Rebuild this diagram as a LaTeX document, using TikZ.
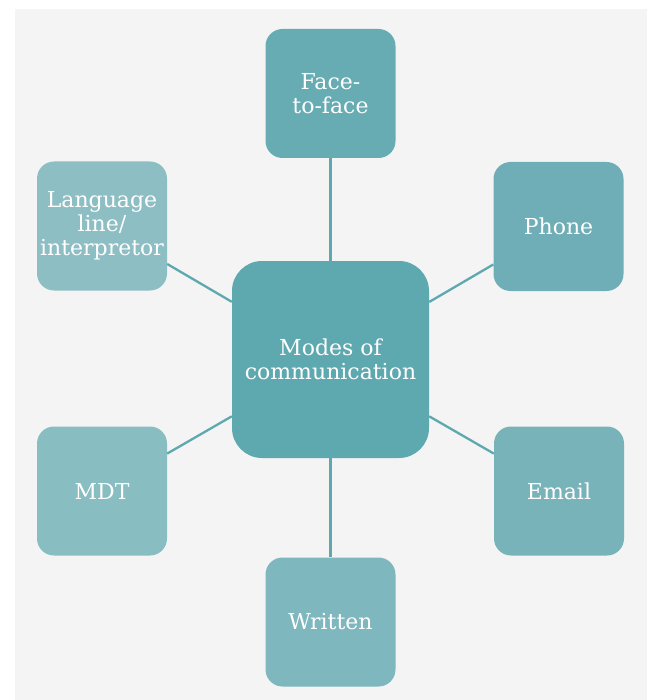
\documentclass[tikz,border=0pt]{standalone}
\usepackage{fontspec}
\setmainfont{DejaVu Serif}
\definecolor{bggray}{HTML}{F4F4F4}
\definecolor{ccenter}{HTML}{5EA8AF}
\definecolor{cface}{HTML}{67ACB3}
\definecolor{cphone}{HTML}{6FAEB6}
\definecolor{clang}{HTML}{8DBEC4}
\definecolor{cmdt}{HTML}{88BDC1}
\definecolor{cemail}{HTML}{77B3B9}
\definecolor{cwritten}{HTML}{7EB7BD}
\definecolor{cline}{HTML}{5EA8AF}
\tikzset{
  modebox/.style={rounded corners=17pt, minimum width=130pt, minimum height=129pt,
    inner sep=0pt, text=white, align=center, font=\fontsize{22}{24}\selectfont},
  centerbox/.style={rounded corners=30pt, minimum width=197pt, minimum height=197pt,
    inner sep=0pt, text=white, align=center, font=\fontsize{22}{24}\selectfont, fill=ccenter},
  link/.style={draw=cline, line width=2.3pt}
}
\begin{document}
\begin{tikzpicture}[x=1pt,y=-1pt]
\useasboundingbox (0,0) rectangle (652,700);
\fill[white] (0,0) rectangle (652,700);
\fill[bggray] (15,9) rectangle (647,700);
\node[centerbox] (c) at (330.5,359.5) {Modes of\\communication};
\node[modebox, fill=cface] (face) at (330.5,93.5) {Face-\\to-face};
\node[modebox, fill=clang] (lang) at (102,226) {Language\\line/\\interpretor};
\node[modebox, fill=cphone] (phone) at (558.5,226.5) {Phone};
\node[modebox, fill=cmdt] (mdt) at (102,491) {MDT};
\node[modebox, fill=cemail] (email) at (559,491) {Email};
\node[modebox, fill=cwritten] (written) at (330.5,622) {Written};
\draw[link] (c) -- (face);
\draw[link] (c) -- (lang);
\draw[link] (c) -- (phone);
\draw[link] (c) -- (mdt);
\draw[link] (c) -- (email);
\draw[link] (c) -- (written);
\end{tikzpicture}
\end{document}
